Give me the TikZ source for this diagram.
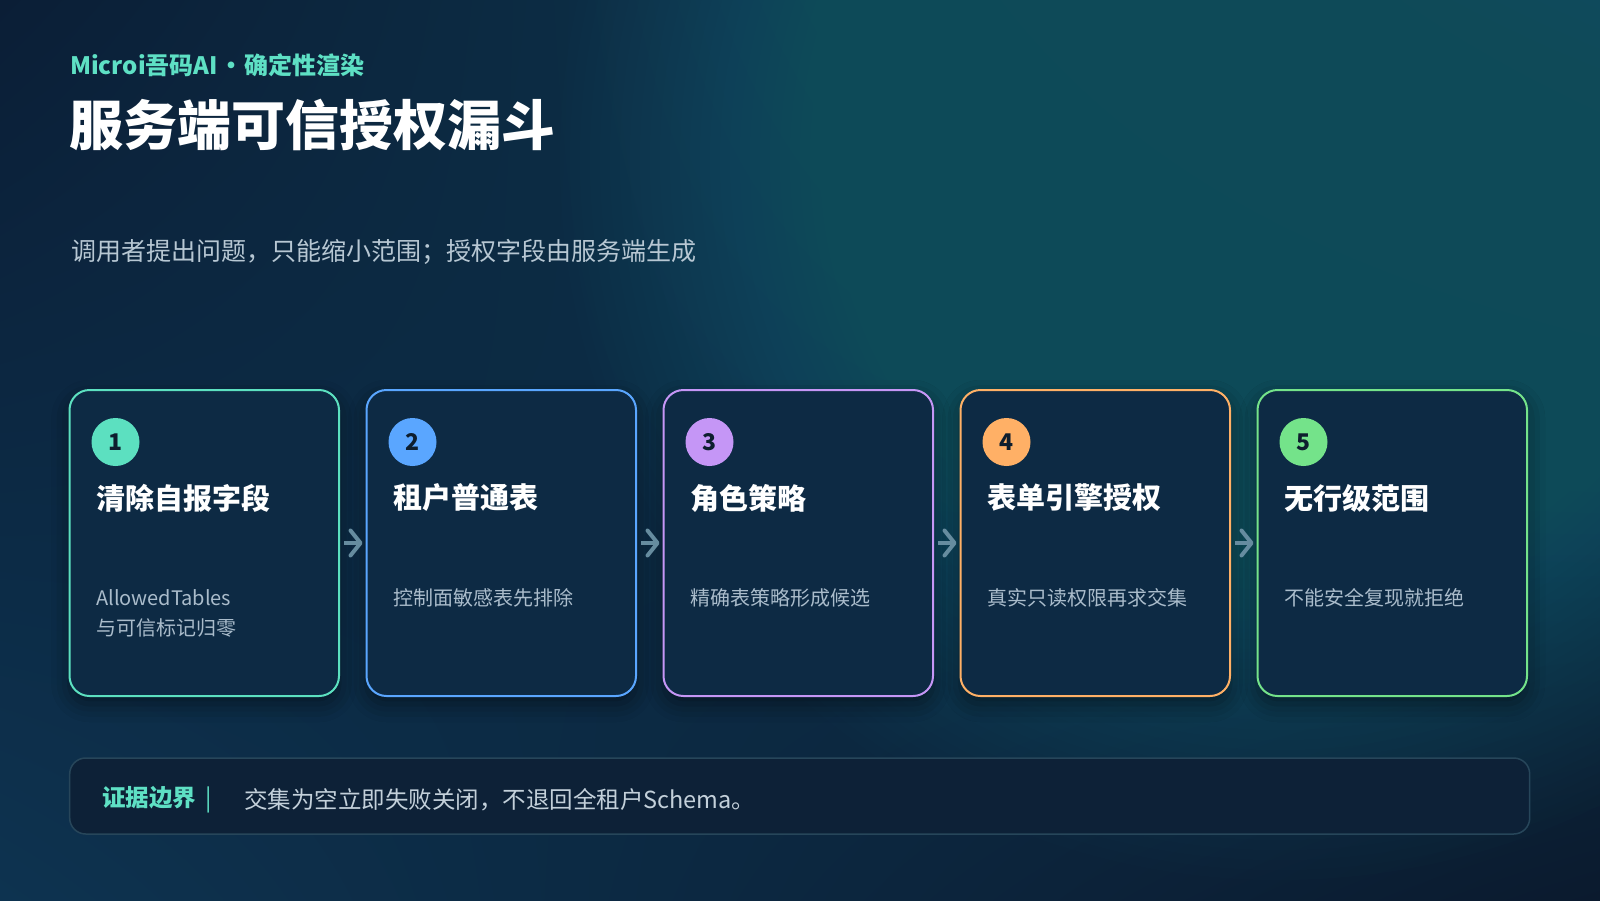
\documentclass[tikz,border=0pt]{standalone}
\usepackage{fontspec}
\setmainfont{Noto Sans CJK SC}
\usetikzlibrary{arrows.meta,shadows.blur,shadings}
\definecolor{bgUL}{HTML}{0B1E36}
\definecolor{bgUR}{HTML}{0F455C}
\definecolor{bgLL}{HTML}{0D3350}
\definecolor{bgLR}{HTML}{0B1A2E}
\definecolor{glowc}{HTML}{1E7482}
\definecolor{accent}{HTML}{5EE0C4}
\definecolor{cteal}{HTML}{5CE0C0}
\definecolor{cblue}{HTML}{5AA6FF}
\definecolor{cpurple}{HTML}{C596F6}
\definecolor{corange}{HTML}{FFB066}
\definecolor{cgreen}{HTML}{74E38A}
\definecolor{cardfill}{HTML}{0D2A44}
\definecolor{badgetext}{HTML}{0E1E2E}
\definecolor{desctext}{HTML}{AABCCB}
\definecolor{subtext}{HTML}{B7C7D3}
\definecolor{arrowc}{HTML}{668C9F}
\definecolor{barfill}{HTML}{0D2137}
\definecolor{barline}{HTML}{27465A}
\definecolor{bartext}{HTML}{C3D0DA}
\begin{document}
\begin{tikzpicture}[x=1pt,y=-1pt,
  card/.style={draw=#1, line width=2pt, fill=cardfill, rounded corners=20pt,
    minimum width=269.5pt, minimum height=306pt, inner sep=0pt,
    blur shadow={shadow xshift=0pt, shadow yshift=-8pt, shadow blur radius=18pt, shadow opacity=45}},
  badge/.style={circle, fill=#1, minimum size=48pt, inner sep=0pt, text=badgetext,
    font=\bfseries\fontsize{23}{23}\selectfont},
  ctitle/.style={anchor=west, inner sep=0pt, text=white, font=\bfseries\fontsize{29}{29}\selectfont},
  cdesc/.style={anchor=west, inner sep=0pt, text=desctext, font=\fontsize{20}{20}\selectfont},
  flow/.style={draw=arrowc, line width=4pt, -{Straight Barb[length=10pt, width=25pt, line cap=round, line join=round]},
    shorten <=4pt, shorten >=3pt},
  plain/.style={anchor=west, inner sep=0pt},
]
\useasboundingbox (0,0) rectangle (1600,900);
\shade[upper left=bgUL, upper right=bgUR, lower left=bgLL, lower right=bgLR] (0,0) rectangle (1600,900);
\foreach \r in {10,20,...,720} {
  \fill[glowc, opacity=0.022] (1280,160) circle (\r);
}

% header
\node[plain, text=accent, font=\bfseries\fontsize{24}{24}\selectfont] (kicker) at (70,65) {Microi吾码AI\hspace{1.5pt}•\hspace{1.5pt}确定性渲染};
\node[plain, text=white, font=\bfseries\fontsize{54}{54}\selectfont] (title) at (69,124.5) {服务端可信授权漏斗};
\node[plain, text=subtext, font=\fontsize{25}{25}\selectfont] (sub) at (71,252) {调用者提出问题，只能缩小范围；授权字段由服务端生成};

% cards
\node[card=cteal]   (c1) at (204.25,543) {};
\node[card=cblue]   (c2) at (501.25,543) {};
\node[card=cpurple] (c3) at (798.25,543) {};
\node[card=corange] (c4) at (1095.25,543) {};
\node[card=cgreen]  (c5) at (1392.25,543) {};

\node[badge=cteal]   (b1) at (115.5,442) {1};
\node[badge=cblue]   (b2) at (412.5,442) {2};
\node[badge=cpurple] (b3) at (709.5,442) {3};
\node[badge=corange] (b4) at (1006.5,442) {4};
\node[badge=cgreen]  (b5) at (1303.5,442) {5};

\node[ctitle] (t1) at (96,498) {清除自报字段};
\node[ctitle] (t2) at (393,498) {租户普通表};
\node[ctitle] (t3) at (690,498) {角色策略};
\node[ctitle] (t4) at (987,498) {表单引擎授权};
\node[ctitle] (t5) at (1284,498) {无行级范围};

\node[cdesc] (d1a) at (96,598) {AllowedTables};
\node[cdesc] (d1b) at (96,628) {与可信标记归零};
\node[cdesc] (d2) at (393,598) {控制面敏感表先排除};
\node[cdesc] (d3) at (690,598) {精确表策略形成候选};
\node[cdesc] (d4) at (987,598) {真实只读权限再求交集};
\node[cdesc] (d5) at (1284,598) {不能安全复现就拒绝};

\draw[flow] (c1.east) -- (c2.west);
\draw[flow] (c2.east) -- (c3.west);
\draw[flow] (c3.east) -- (c4.west);
\draw[flow] (c4.east) -- (c5.west);

% bottom bar
\node[draw=barline, line width=1.5pt, fill=barfill, rounded corners=16pt,
  minimum width=1460pt, minimum height=76pt, inner sep=0pt] (bar) at (799.7,796) {};
\node[plain, text=accent, font=\fontsize{23.5}{24}\selectfont] (blabel) at (102,800) {\bfseries 证据边界\hspace{9pt}\mdseries |};
\node[plain, text=bartext, font=\fontsize{23.5}{24}\selectfont] (btext) at (244,800) {交集为空立即失败关闭，不退回全租户Schema。};
\end{tikzpicture}
\end{document}
